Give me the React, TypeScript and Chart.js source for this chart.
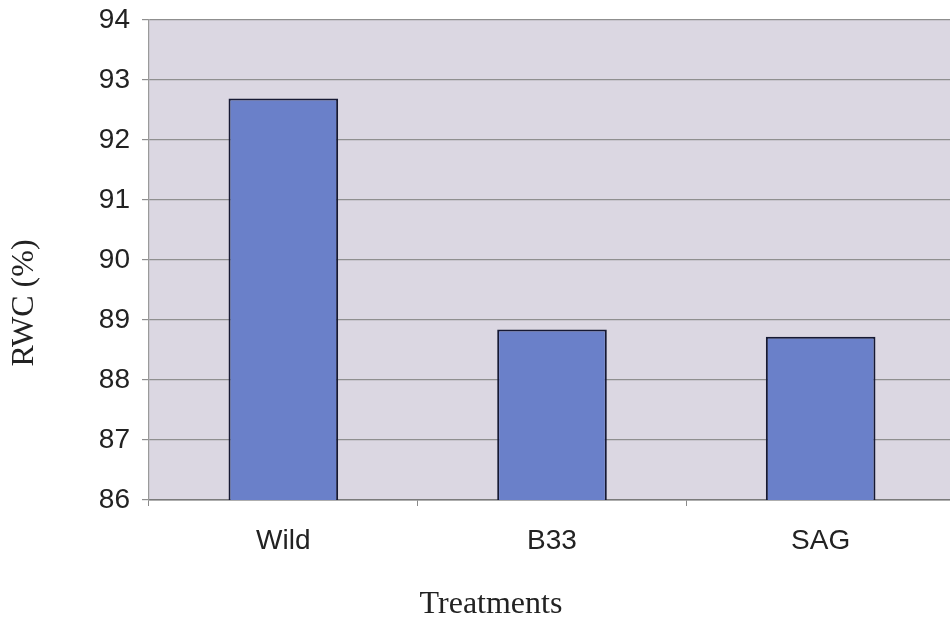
import React, { useEffect, useRef } from "react";
import { Chart, registerables } from "chart.js";

Chart.register(...registerables);

const categories = ["Wild", "B33", "SAG"];
const rwcValues = [92.69, 88.84, 88.72];
const yMin = 86;
const yMax = 94;

const axisTitles = {
  id: "axisTitles",
  afterDraw(chart: Chart) {
    const ctx = chart.ctx;
    ctx.save();
    ctx.fillStyle = "#222";
    ctx.textAlign = "center";
    ctx.textBaseline = "middle";
    ctx.font = "32px 'Liberation Serif', 'Times New Roman', serif";
    ctx.translate(25, 303);
    ctx.rotate(-Math.PI / 2);
    ctx.fillText("RWC (%)", 0, 0);
    ctx.restore();

    ctx.save();
    ctx.fillStyle = "#222";
    ctx.textAlign = "center";
    ctx.textBaseline = "middle";
    ctx.font = "32px 'Liberation Serif', 'Times New Roman', serif";
    ctx.fillText("Treatments", 491, 605);
    ctx.restore();
  },
};

const plotBackground = {
  id: "plotBackground",
  beforeDraw(chart: Chart) {
    const { ctx, chartArea } = chart;
    ctx.save();
    ctx.fillStyle = "#dbd7e2";
    ctx.fillRect(chartArea.left, chartArea.top, chartArea.right - chartArea.left, chartArea.bottom - chartArea.top);
    ctx.restore();
  },
};

export default function App() {
  const canvasRef = useRef<HTMLCanvasElement>(null);

  useEffect(() => {
    const canvas = canvasRef.current;
    if (!canvas) return;
    const chart = new Chart(canvas, {
      type: "bar",
      data: {
        labels: categories,
        datasets: [
          {
            label: "RWC (%)",
            data: rwcValues,
            backgroundColor: "#6a80c9",
            borderColor: "#161933",
            borderWidth: 2,
            borderSkipped: false,
            categoryPercentage: 1,
            barPercentage: 0.408,
          },
        ],
      },
      options: {
        animation: false,
        responsive: false,
        devicePixelRatio: 1,
        layout: { padding: { top: 20, right: 7, bottom: 0, left: 0 } },
        plugins: {
          legend: { display: false },
          tooltip: { enabled: false },
        },
        scales: {
          x: {
            grid: {
              offset: true,
              drawOnChartArea: false,
              drawTicks: true,
              tickLength: 6,
              color: "#8a8a8a",
            },
            border: { color: "#7a7a7a", width: 1.5 },
            ticks: {
              color: "#222",
              font: { family: "'Liberation Sans', Arial, sans-serif", size: 28 },
              padding: 18,
            },
            afterFit(scale: any) {
              scale.height = 125;
              scale.paddingLeft = 0;
              scale.paddingRight = 0;
            },
          },
          y: {
            min: yMin,
            max: yMax,
            ticks: {
              stepSize: 1,
              color: "#222",
              font: { family: "'Liberation Sans', Arial, sans-serif", size: 28 },
              padding: 12,
            },
            grid: {
              color: "#8f8f8f",
              lineWidth: 1.2,
              tickLength: 7,
            },
            border: { color: "#9a9a9a", width: 1.2 },
            afterFit(scale: any) {
              scale.width = 149;
              scale.paddingTop = 0;
              scale.paddingBottom = 0;
            },
          },
        },
      },
      plugins: [plotBackground, axisTitles],
    });
    return () => chart.destroy();
  }, []);

  return (
    <div
      style={{
        position: "fixed",
        left: 0,
        top: 0,
        width: 950,
        height: 625,
        overflow: "hidden",
        background: "#fff",
      }}
    >
      <canvas ref={canvasRef} width={962} height={625} style={{ display: "block" }} />
    </div>
  );
}
